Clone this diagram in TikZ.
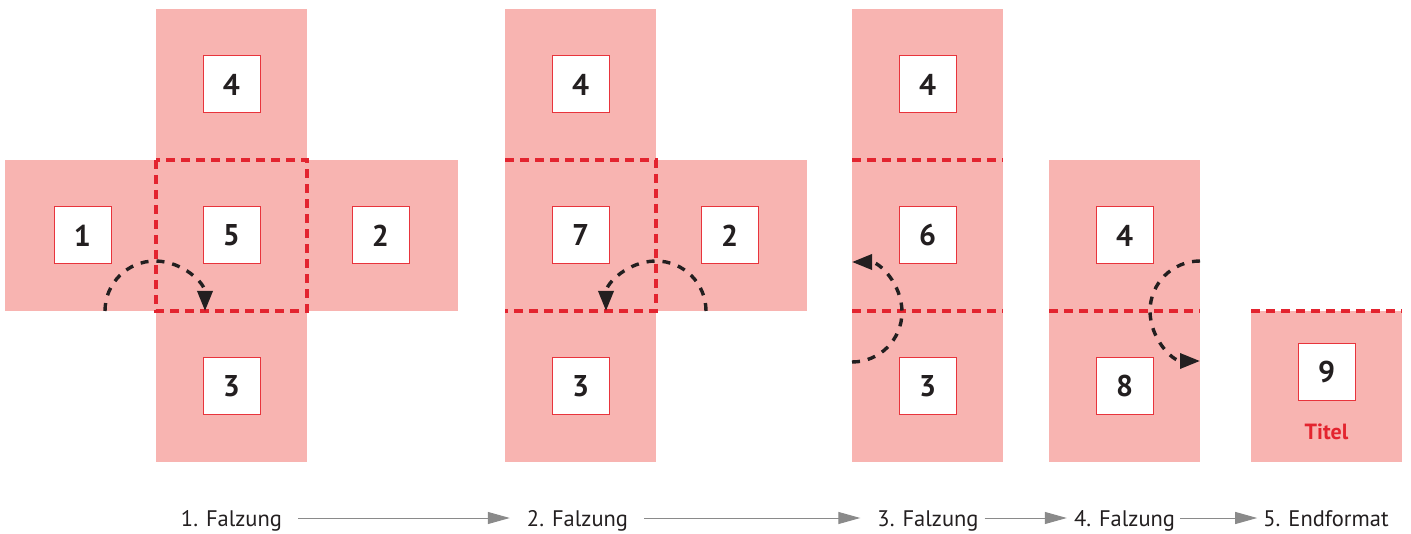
\documentclass[tikz,border=0pt]{standalone}
\usepackage{fontspec}
\setmainfont{PT Sans}
\usetikzlibrary{arrows.meta}
\definecolor{pinkfill}{HTML}{F8B4B1}
\definecolor{foldred}{HTML}{E3242F}
\definecolor{boxred}{HTML}{E8343C}
\definecolor{txt}{HTML}{231F20}
\definecolor{flowgray}{HTML}{8A8A8A}
\begin{document}
\begin{tikzpicture}[x=1pt,y=-1pt,
  numbox/.style={draw=boxred, line width=1pt, fill=white, minimum size=57pt, inner sep=0pt,
    font=\bfseries\fontsize{30}{30}\selectfont, text=txt},
  fold/.style={draw=foldred, line width=3.4pt, dash pattern=on 9pt off 6pt},
  turn/.style={draw=txt, line width=3.4pt, dash pattern=on 8pt off 8pt,
    -{Triangle[length=20pt,width=15pt]}},
  flow/.style={draw=flowgray, line width=1pt, -{Triangle[length=22pt,width=12pt]}},
  lab/.style={font=\fontsize{22.5}{22.5}\selectfont, text=txt, inner sep=0pt, anchor=base}]
\useasboundingbox (0,0) rectangle (1411,534);
% paper panels
\fill[pinkfill] (156,9) rectangle (307,462);
\fill[pinkfill] (5,160) rectangle (458,311);
\fill[pinkfill] (505,9) rectangle (656,462);
\fill[pinkfill] (656,160) rectangle (807,311);
\fill[pinkfill] (852,9) rectangle (1003,462);
\fill[pinkfill] (1049,160) rectangle (1200,462);
\fill[pinkfill] (1251,311) rectangle (1402,462);
% fold lines
\draw[fold] (156,160) rectangle (307,311);
\draw[fold] (505,160) -- (656,160) -- (656,311) -- (505,311);
\draw[fold] (852,160) -- (1003,160);
\draw[fold] (852,311) -- (1003,311);
\draw[fold] (1049,311) -- (1200,311);
\draw[fold] (1251,311) -- (1402,311);
% page numbers
\node[numbox] (a4) at (231.5,84.5) {4};
\node[numbox] (a1) at (82.5,235.5) {1};
\node[numbox] (a5) at (231.5,235.5) {5};
\node[numbox] (a2) at (380.5,235.5) {2};
\node[numbox] (a3) at (231.5,386.5) {3};
\node[numbox] (b4) at (580.5,84.5) {4};
\node[numbox] (b7) at (580.5,235.5) {7};
\node[numbox] (b2) at (729.5,235.5) {2};
\node[numbox] (b3) at (580.5,386.5) {3};
\node[numbox] (c4) at (927.5,84.5) {4};
\node[numbox] (c6) at (927.5,235.5) {6};
\node[numbox] (c3) at (927.5,386.5) {3};
\node[numbox] (d4) at (1124.5,235.5) {4};
\node[numbox] (d8) at (1124.5,386.5) {8};
\node[numbox] (e9) at (1326.5,372.5) {9};
\node[font=\bfseries\fontsize{22}{22}\selectfont, text=foldred, inner sep=0pt, anchor=base] (title) at (1326.5,439) {Titel};
% folding arrows
\draw[turn] (105,311) arc[start angle=180, end angle=360, radius=50];
\draw[turn] (706,311) arc[start angle=0, end angle=-180, radius=50];
\draw[turn] (852,362) arc[start angle=90, end angle=-90, radius=50];
\draw[turn] (1200,261) arc[start angle=-90, end angle=-270, radius=50];
% step labels
\node[lab] (l1) at (231.5,526) {1. Falzung};
\node[lab] (l2) at (577.5,526) {2. Falzung};
\node[lab] (l3) at (928,526) {3. Falzung};
\node[lab] (l4) at (1124.5,526) {4. Falzung};
\node[lab] (l5) at (1326,526) {5. Endformat};
\draw[flow] ([xshift=16pt,yshift=8pt]l1.base east) -- ([xshift=-17pt,yshift=8pt]l2.base west);
\draw[flow] ([xshift=16pt,yshift=8pt]l2.base east) -- ([xshift=-17pt,yshift=8pt]l3.base west);
\draw[flow] ([xshift=6pt,yshift=8pt]l3.base east) -- ([xshift=-7pt,yshift=8pt]l4.base west);
\draw[flow] ([xshift=5pt,yshift=8pt]l4.base east) -- ([xshift=-6pt,yshift=8pt]l5.base west);
\end{tikzpicture}
\end{document}
